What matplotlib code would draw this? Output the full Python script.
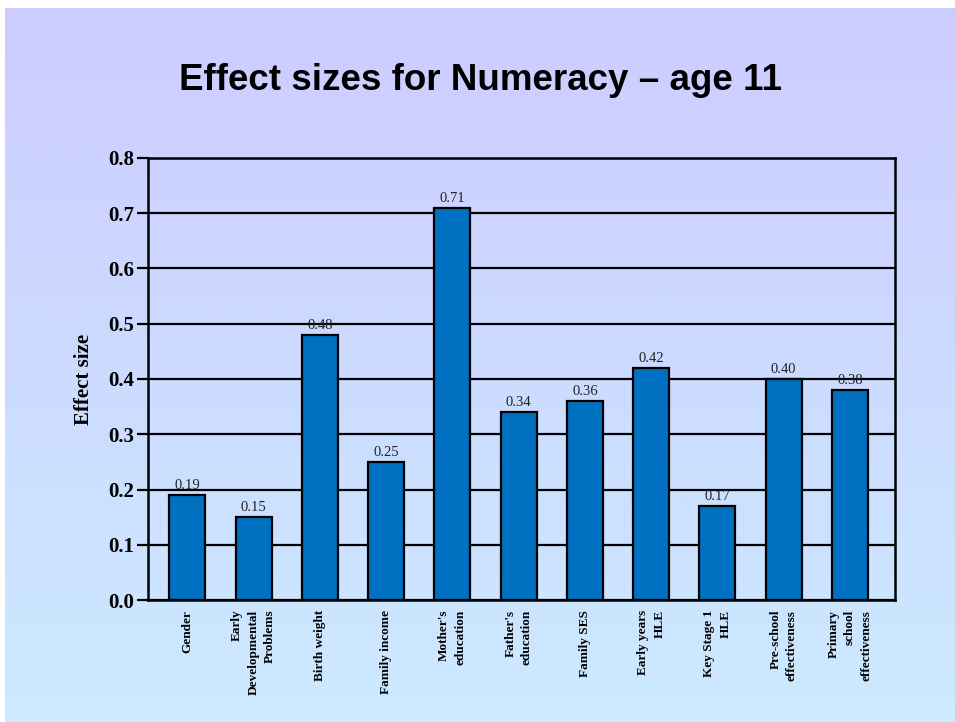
import numpy as np
import matplotlib
matplotlib.use("Agg")
import matplotlib.pyplot as plt
from matplotlib.colors import LinearSegmentedColormap

categories = [
    "Gender",
    "Early\nDevelopmental\nProblems",
    "Birth weight",
    "Family income",
    "Mother's\neducation",
    "Father's\neducation",
    "Family SES",
    "Early years\nHLE",
    "Key Stage 1\nHLE",
    "Pre-school\neffectiveness",
    "Primary\nschool\neffectiveness",
]
effect_sizes = [0.19, 0.15, 0.48, 0.25, 0.71, 0.34, 0.36, 0.42, 0.17, 0.40, 0.38]
y_ticks = [0.0, 0.1, 0.2, 0.3, 0.4, 0.5, 0.6, 0.7, 0.8]

title = "Effect sizes for Numeracy \u2013 age 11"
y_label = "Effect size"

serif = ["Liberation Serif", "DejaVu Serif"]
sans = ["Liberation Sans", "DejaVu Sans"]

fig = plt.figure(figsize=(9.55, 7.22), dpi=100)
fig.patch.set_facecolor("white")

# slide background: vertical gradient lavender -> pale blue
bg = fig.add_axes([5 / 955, 0, 1 - 5 / 955, 1 - 8 / 722])
bg.set_axis_off()
cmap = LinearSegmentedColormap.from_list("slide", ["#CCCCFF", "#CCEAFF"])
grad = np.linspace(0, 1, 256).reshape(-1, 1)
bg.imshow(grad, aspect="auto", cmap=cmap, extent=[0, 1, 0, 1], origin="upper")

fig.text(0.5035, 0.888, title, ha="center", va="center",
         fontsize=26.5, fontweight="bold", family=sans, color="black")

ax = fig.add_axes([148 / 955, 122 / 722, 747 / 955, 442 / 722])
ax.set_facecolor("none")

x = np.arange(len(categories))
bars = ax.bar(x, effect_sizes, width=0.545, color="#0070C0",
              edgecolor="black", linewidth=1.6, zorder=3)

for xi, v in zip(x, effect_sizes):
    ax.annotate(f"{v:.2f}", (xi, v), xytext=(0, 2), textcoords="offset points",
                ha="center", va="bottom", fontsize=10.5, family=serif,
                color="#222222", zorder=4)

ax.set_xlim(-0.593, 10.68)
ax.set_ylim(0, 0.8)
ax.set_yticks(y_ticks)
ax.set_yticklabels([f"{t:.1f}" for t in y_ticks], fontsize=15,
                   fontweight="bold", family=serif)
ax.yaxis.grid(True, color="black", linewidth=1.6)
ax.set_axisbelow(True)

ax.set_xticks(x)
ax.set_xticklabels(categories, rotation=90, fontsize=9.5, fontweight="bold",
                   family=serif, ha="center", va="top",
                   multialignment="right", linespacing=1.5)
ax.tick_params(axis="x", length=0, pad=7)
ax.tick_params(axis="y", length=8, width=1.6, pad=2)

for s in ax.spines.values():
    s.set_color("black")
    s.set_linewidth(1.8)

ax.set_ylabel(y_label, fontsize=15, fontweight="bold", family=serif,
              labelpad=10)

fig.savefig("out.png", dpi=100, facecolor=fig.get_facecolor())
